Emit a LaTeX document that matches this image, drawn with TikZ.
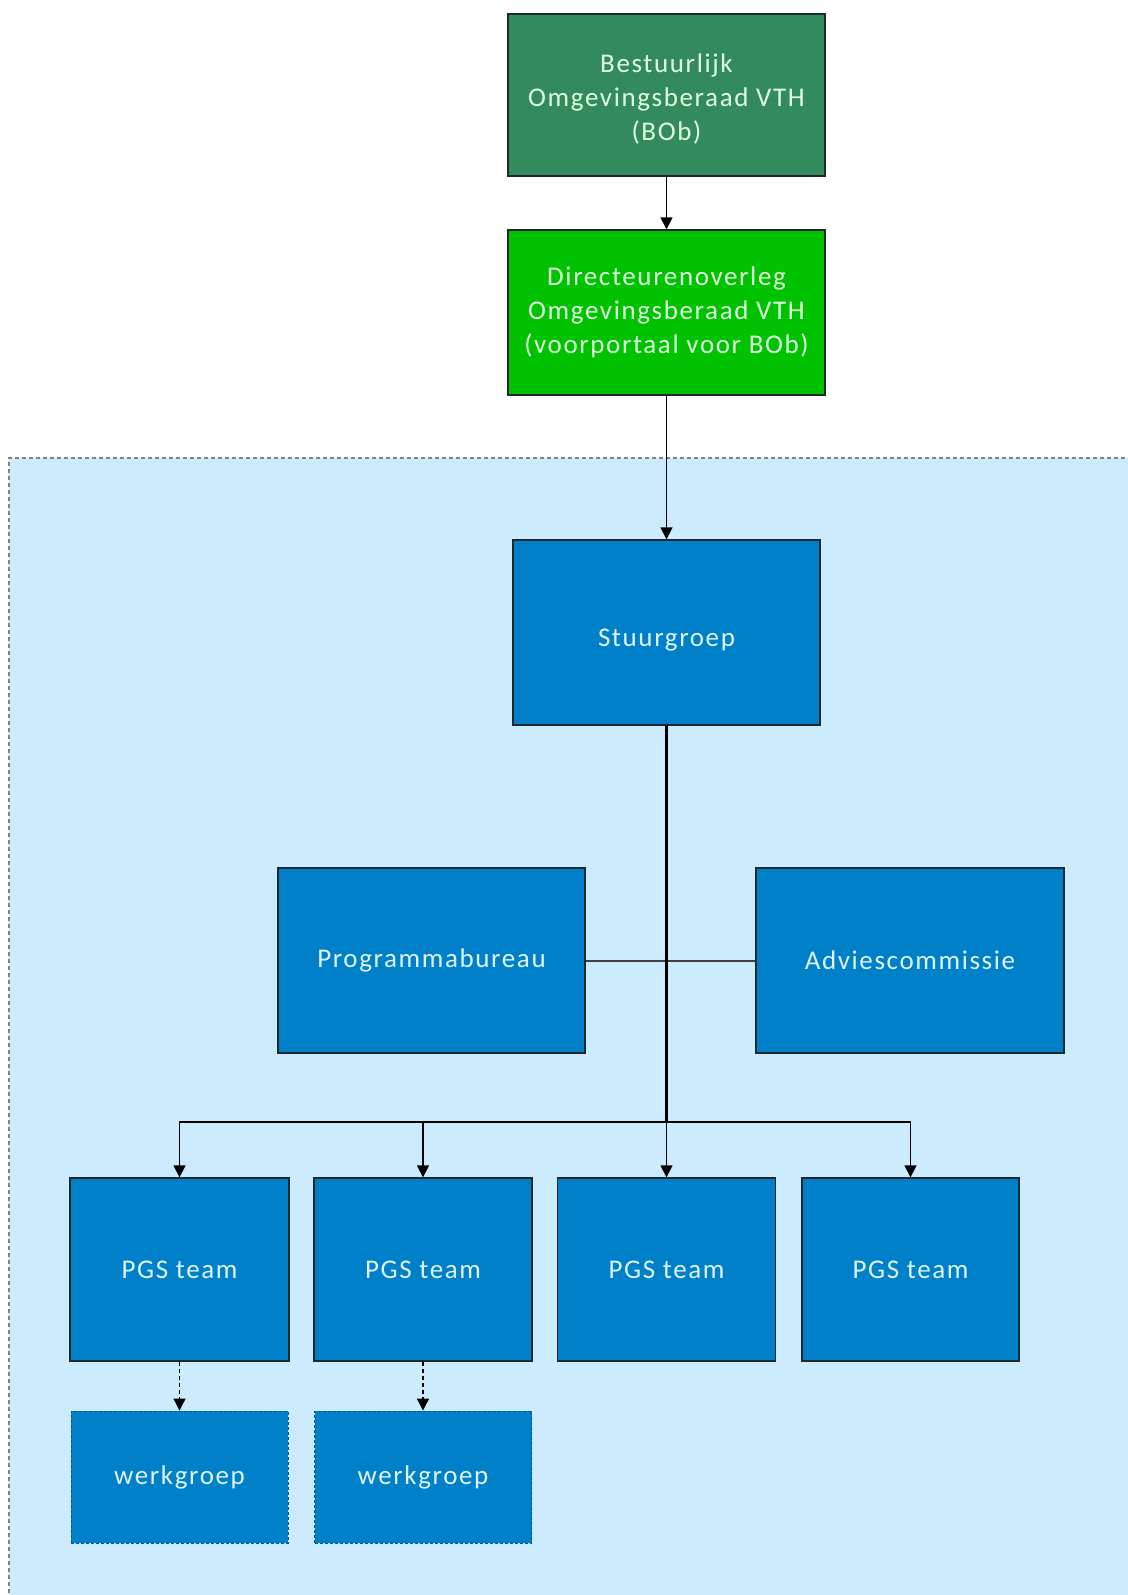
\documentclass[tikz,border=0pt]{standalone}
\usepackage{fontspec}
\setmainfont{Carlito}[LetterSpace=6]
\usetikzlibrary{arrows.meta}
\definecolor{bobgreen}{RGB}{50,138,94}
\definecolor{dirgreen}{RGB}{0,194,0}
\definecolor{boxblue}{RGB}{0,128,200}
\definecolor{bgblue}{RGB}{204,235,252}
\definecolor{greentext}{RGB}{222,255,222}
\definecolor{bluetext}{RGB}{222,244,255}
\definecolor{edgedark}{RGB}{30,40,45}
\begin{document}
\begin{tikzpicture}[x=1pt,y=-1pt,
  basebox/.style={draw=edgedark, line width=1.3pt, inner sep=0pt, align=center,
    font=\fontsize{27}{34}\selectfont},
  greenbox/.style={basebox, text=greentext},
  bluebox/.style={basebox, fill=boxblue, text=bluetext},
  wgbox/.style={bluebox, draw=boxblue!70!black, dash pattern=on 3pt off 2pt, line width=1pt},
  arr/.style={draw=black, line width=1.3pt, -{Triangle[width=12pt,length=12pt]}},
  darr/.style={arr, dash pattern=on 4pt off 3pt},
  stem/.style={draw=black, line width=2.8pt},
  link/.style={draw=black!75, line width=2pt}
]
\useasboundingbox (0,0) rectangle (1127,1595);
\fill[white] (0,0) rectangle (1127,1595);
% background region
\fill[bgblue] (9,458) rectangle (1130,1600);
\draw[gray, line width=1.5pt, dash pattern=on 4pt off 3pt] (9,1600) -- (9,458) -- (1130,458);

% top boxes
\node[greenbox, fill=bobgreen, minimum width=317pt, minimum height=162pt] (bob) at (666.5,95)
  {\raisebox{-5pt}[\height][\depth]{\begin{tabular}{@{}c@{}}Bestuurlijk\\Omgevingsberaad VTH\\(BOb)\end{tabular}}};
\node[greenbox, fill=dirgreen, minimum width=317pt, minimum height=165pt] (dir) at (666.5,312.5)
  {Directeurenoverleg\\Omgevingsberaad VTH\\(voorportaal voor BOb)};

\node[bluebox, minimum width=307pt, minimum height=185pt] (stuur) at (666.5,632.5)
  {\raisebox{-8pt}[\height][\depth]{Stuurgroep}};
\node[bluebox, minimum width=307pt, minimum height=185pt] (prog) at (431.5,960.5) {Programmabureau};
\node[bluebox, minimum width=308pt, minimum height=185pt] (advies) at (910,960.5) {Adviescommissie};

\node[bluebox, minimum width=219pt, minimum height=183pt] (pgsa) at (179.5,1269.5) {PGS team};
\node[bluebox, minimum width=218pt, minimum height=183pt] (pgsb) at (423,1269.5) {PGS team};
\node[bluebox, minimum width=218pt, minimum height=183pt] (pgsc) at (666.5,1269.5) {PGS team};
\node[bluebox, minimum width=217pt, minimum height=183pt] (pgsd) at (910.5,1269.5) {PGS team};

\node[wgbox, minimum width=217pt, minimum height=132pt] (wga) at (179.5,1477) {werkgroep};
\node[wgbox, minimum width=217pt, minimum height=132pt] (wgb) at (423,1477) {werkgroep};

\coordinate (j) at (666.5,1122);

% connectors
\draw[arr] (bob) -- (dir);
\draw[arr] (dir) -- (stuur);
\draw[link] (prog.east) -- (advies.west);
\draw[stem] (stuur.south) -- (j);
\draw[arr] (j) -| (pgsa.north);
\draw[arr] (j) -| (pgsb.north);
\draw[arr] (j) -- (pgsc.north);
\draw[arr] (j) -| (pgsd.north);
\draw[darr] (pgsa) -- (wga);
\draw[darr] (pgsb) -- (wgb);
\end{tikzpicture}
\end{document}
